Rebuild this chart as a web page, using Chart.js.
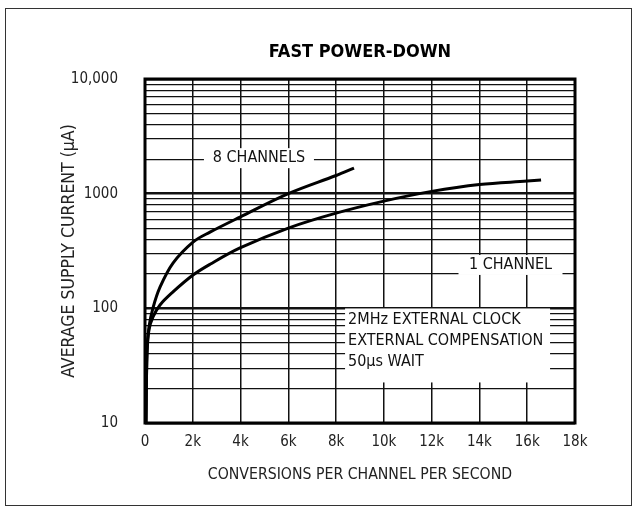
<!DOCTYPE html>
<html>
<head>
<meta charset="utf-8">
<script src="https://cdn.jsdelivr.net/npm/chart.js@4"></script>
<style>
  html, body { margin: 0; padding: 0; background: #fff; }
  #wrap { width: 637px; height: 512px; }
</style>
</head>
<body>
<div id="wrap"><canvas id="myChart" width="637" height="512"></canvas></div>
<script>
// x = conversions per channel per second, y = average supply current (uA)
const oneChX = [42, 84, 167, 335, 628, 1172, 2009, 2721, 3977, 6000, 8000, 10000, 12000, 14000, 16000, 16580];
const oneChY = [10, 41, 65, 84, 107, 139, 195, 242, 336, 501, 676, 861, 1047, 1202, 1288, 1316];
const eightChX = [42, 84, 167, 335, 628, 1172, 2009, 2721, 3977, 6000, 8000, 8750];
const eightChY = [10, 41, 69, 101, 153, 248, 378, 462, 625, 1000, 1440, 1670];

const xTicks = [0, 2000, 4000, 6000, 8000, 10000, 12000, 14000, 16000, 18000];
const xTickLabels = ['0', '2k', '4k', '6k', '8k', '10k', '12k', '14k', '16k', '18k'];
const yMajor = [10, 100, 1000, 10000];
const yTickLabels = ['10', '100', '1000', '10,000'];

const FONT = "'Liberation Sans Narrow', 'DejaVu Sans Condensed', 'Liberation Sans', sans-serif";

function toPoints(xs, ys) {
    return xs.map((x, i) => ({x: x, y: ys[i]}));
}

// labels with white boxes, frame, title
const decorPlugin = {
    id: 'decor',
    afterDraw(chart) {
        const ctx = chart.ctx;
        const a = chart.chartArea;
        const xs = chart.scales.x;
        const ys = chart.scales.y;
        ctx.save();

        function box(x1, y1, x2, y2) {
            ctx.fillStyle = '#fff';
            ctx.fillRect(x1, y1, x2 - x1, y2 - y1);
            ctx.fillStyle = '#111';
        }
        ctx.font = "16px " + FONT;
        ctx.textBaseline = 'middle';
        ctx.textAlign = 'center';

        let cx = xs.getPixelForValue(4770), cy = ys.getPixelForValue(2040);
        box(cx - 55, cy - 10, cx + 55, cy + 10);
        ctx.fillText('8 CHANNELS', cx, cy);

        cx = xs.getPixelForValue(15300); cy = ys.getPixelForValue(239);
        box(cx - 52, cy - 10, cx + 52, cy + 10);
        ctx.fillText('1 CHANNEL', cx, cy);

        const lx = xs.getPixelForValue(8500);
        const ty = ys.getPixelForValue(80);
        box(lx - 3, ty - 11, lx + 202, ty + 63);
        ctx.textAlign = 'left';
        ctx.fillText('2MHz EXTERNAL CLOCK', lx, ty);
        ctx.fillText('EXTERNAL COMPENSATION', lx, ty + 21);
        ctx.fillText('50\u00B5s WAIT', lx, ty + 42);

        // plot border
        ctx.strokeStyle = '#000';
        ctx.lineWidth = 3;
        ctx.strokeRect(a.left, a.top, a.right - a.left, a.bottom - a.top);

        // outer frame
        ctx.lineWidth = 1;
        ctx.strokeStyle = '#333';
        ctx.strokeRect(5.5, 8.5, 626, 497);

        // title
        ctx.font = "bold 18px " + FONT;
        ctx.fillStyle = '#000';
        ctx.textAlign = 'center';
        ctx.fillText('FAST POWER-DOWN', (a.left + a.right) / 2, a.top - 27);
        ctx.restore();
    }
};

let myChart = null;
const ctxEl = document.getElementById('myChart');

myChart = new Chart(ctxEl, {
    type: 'line',
    data: {
        datasets: [{
            label: '8 CHANNELS',
            data: toPoints(eightChX, eightChY),
            borderColor: '#000',
            borderWidth: 3,
            pointRadius: 0,
            fill: false,
            tension: 0.35
        }, {
            label: '1 CHANNEL',
            data: toPoints(oneChX, oneChY),
            borderColor: '#000',
            borderWidth: 3,
            pointRadius: 0,
            fill: false,
            tension: 0.35
        }]
    },
    options: {
        responsive: false,
        animation: false,
        devicePixelRatio: 1,
        layout: {
            padding: {left: 5, right: 62, top: 79, bottom: 6}
        },
        plugins: {
            legend: {display: false},
            tooltip: {enabled: false}
        },
        scales: {
            x: {
                type: 'linear',
                min: 0,
                max: 18000,
                afterBuildTicks: (scale) => {
                    scale.ticks = xTicks.map(v => ({value: v}));
                },
                afterFit: (scale) => {
                    scale.height = 83;
                },
                ticks: {
                    autoSkip: false,
                    maxRotation: 0,
                    padding: 10,
                    color: '#222',
                    font: {family: FONT, size: 15},
                    callback: (v) => {
                        const i = xTicks.indexOf(v);
                        return i >= 0 ? xTickLabels[i] : '';
                    }
                },
                grid: {
                    color: '#111',
                    lineWidth: 1.5,
                    drawTicks: false
                },
                border: {display: false},
                title: {
                    display: true,
                    text: 'CONVERSIONS PER CHANNEL PER SECOND',
                    color: '#222',
                    font: {family: FONT, size: 15.7},
                    padding: {top: 0, bottom: 22}
                }
            },
            y: {
                type: 'logarithmic',
                min: 10,
                max: 10000,
                afterBuildTicks: (scale) => {
                    const t = [];
                    for (let d = 0; d < yMajor.length; d++) {
                        t.push({value: yMajor[d]});
                        if (d < yMajor.length - 1) {
                            for (let m = 2; m <= 9; m++) t.push({value: yMajor[d] * m});
                        }
                    }
                    scale.ticks = t;
                },
                afterFit: (scale) => {
                    scale.width = 140;
                },
                ticks: {
                    autoSkip: false,
                    padding: 27,
                    color: '#222',
                    font: {family: FONT, size: 15},
                    callback: (v) => {
                        const i = yMajor.indexOf(v);
                        return i >= 0 ? yTickLabels[i] : '';
                    }
                },
                grid: {
                    color: '#111',
                    lineWidth: (c) => (c.tick && yMajor.includes(c.tick.value)) ? 2.5 : 1.2,
                    drawTicks: false
                },
                border: {display: false},
                title: {
                    display: true,
                    text: 'AVERAGE SUPPLY CURRENT (\u00B5A)',
                    color: '#222',
                    font: {family: FONT, size: 17.5},
                    padding: {top: 54, bottom: 54}
                }
            }
        }
    },
    plugins: [decorPlugin]
});
</script>
</body>
</html>
